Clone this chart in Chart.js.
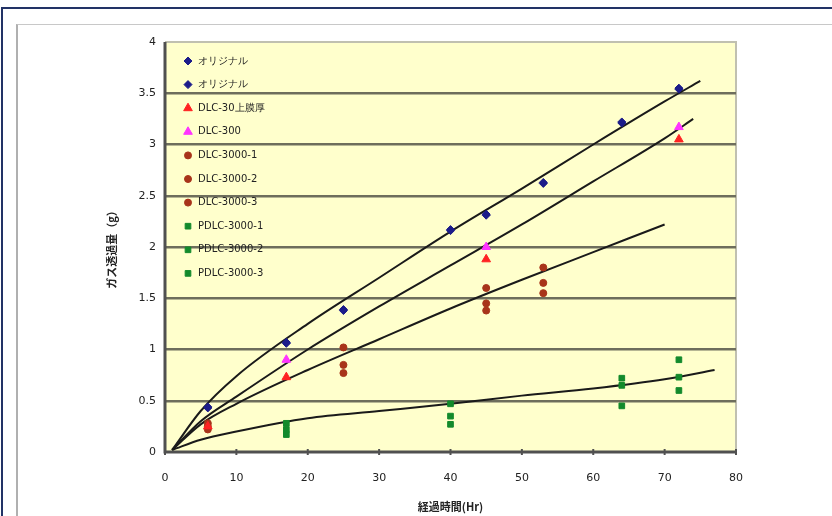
<!DOCTYPE html>
<html>
<head>
<meta charset="utf-8">
<script src="https://cdn.jsdelivr.net/npm/chart.js@4"></script>
<style>
  body { margin: 0; background: #fff; }
  .frame { position: absolute; left: 0; top: 0; width: 832px; height: 516px; overflow: hidden; }
  .outer { position: absolute; left: 1px; top: 7px; width: 840px; height: 520px; border-top: 2px solid #223366; border-left: 2px solid #223366; }
  .inner { position: absolute; left: 16px; top: 24px; width: 820px; height: 500px; border-top: 1px solid #c8c8c8; border-left: 2px solid #b0b0b0; }
  canvas { position: absolute; left: 0; top: 0; }
</style>
</head>
<body>
<div class="frame">
  <div class="outer"></div>
  <div class="inner"></div>
  <canvas id="myChart" width="832" height="516"></canvas>
</div>
<script>
// Data
const xTicks = [0, 10, 20, 30, 40, 50, 60, 70, 80];
const yTicks = [0, 0.5, 1, 1.5, 2, 2.5, 3, 3.5, 4];

const origX = [6, 17, 25, 40, 45, 53, 64, 72];
const orig1 = [0.43, 1.07, 1.38, 2.17, 2.32, 2.63, 3.22, 3.55];
const orig2 = [0.44, 1.06, 1.39, 2.16, 2.31, 2.62, 3.21, 3.54];

const dlcX = [6, 17, 45, 72];
const dlc30 = [0.25, 0.73, 1.88, 3.05];
const dlc300X = [17, 45, 72];
const dlc300 = [0.9, 2.0, 3.17];

const d3kX = [6, 25, 45, 53];
const d3k1 = [0.28, 1.02, 1.6, 1.8];
const d3k2 = [0.25, 0.85, 1.45, 1.65];
const d3k3 = [0.22, 0.77, 1.38, 1.55];

const pX = [17, 40, 64, 72];
const p1 = [0.28, 0.47, 0.72, 0.9];
const p2 = [0.22, 0.35, 0.65, 0.73];
const p3 = [0.17, 0.27, 0.45, 0.6];

// trend curves
const tOrigX = [1, 5, 10, 20, 30, 40, 50, 60, 70, 75];
const tOrig  = [0.02, 0.4, 0.74, 1.25, 1.7, 2.15, 2.57, 3.0, 3.42, 3.62];
const tDlcX  = [1, 5, 10, 20, 30, 40, 50, 60, 70, 74];
const tDlc   = [0.02, 0.3, 0.54, 1.0, 1.42, 1.82, 2.22, 2.64, 3.06, 3.25];
const t3kX   = [1, 5, 10, 20, 30, 40, 50, 60, 70];
const t3k    = [0.02, 0.27, 0.47, 0.8, 1.1, 1.4, 1.68, 1.95, 2.22];
const tPX    = [1, 5, 10, 20, 30, 40, 50, 60, 70, 77];
const tP     = [0.02, 0.12, 0.2, 0.33, 0.4, 0.47, 0.55, 0.62, 0.71, 0.8];

const labels = ['オリジナル', 'オリジナル', 'DLC-30上膜厚', 'DLC-300', 'DLC-3000-1', 'DLC-3000-2', 'DLC-3000-3', 'PDLC-3000-1', 'PDLC-3000-2', 'PDLC-3000-3'];

const toPts = (xs, ys) => xs.map((x, i) => ({x: x, y: ys[i]}));

function pointSet(label, xs, ys, color, style, r) {
    return {
        label: label,
        data: toPts(xs, ys),
        showLine: false,
        pointStyle: style,
        pointRadius: r,
        pointBackgroundColor: color,
        pointBorderColor: color,
        borderColor: color,
        backgroundColor: color,
        order: 1
    };
}
function trend(xs, ys) {
    return {
        label: '',
        trend: true,
        data: toPts(xs, ys),
        showLine: true,
        borderColor: '#1a1a1a',
        borderWidth: 2,
        pointRadius: 0,
        cubicInterpolationMode: 'monotone',
        order: 2
    };
}

const blue = '#1c1c8a', red = '#ff2222', pink = '#ff33ff', brown = '#a8341a', green = '#138a2c';

const datasets = [
    pointSet(labels[0], origX, orig1, blue, 'rectRot', 4),
    pointSet(labels[1], origX, orig2, blue, 'rectRot', 4),
    pointSet(labels[2], dlcX, dlc30, red, 'triangle', 5),
    pointSet(labels[3], dlc300X, dlc300, pink, 'triangle', 5),
    pointSet(labels[4], d3kX, d3k1, brown, 'circle', 3.5),
    pointSet(labels[5], d3kX, d3k2, brown, 'circle', 3.5),
    pointSet(labels[6], d3kX, d3k3, brown, 'circle', 3.5),
    pointSet(labels[7], pX, p1, green, 'rect', 4),
    pointSet(labels[8], pX, p2, green, 'rect', 4),
    pointSet(labels[9], pX, p3, green, 'rect', 4),
    trend(tOrigX, tOrig),
    trend(tDlcX, tDlc),
    trend(t3kX, t3k),
    trend(tPX, tP)
];

// plot background + border
const plotBg = {
    id: 'plotBg',
    beforeDraw(chart) {
        const {ctx, chartArea: a} = chart;
        ctx.save();
        ctx.fillStyle = '#ffffcc';
        ctx.fillRect(a.left, a.top, a.right - a.left, a.bottom - a.top);
        ctx.strokeStyle = '#c0c0b0';
        ctx.lineWidth = 2;
        ctx.beginPath();
        ctx.moveTo(a.left, a.top);
        ctx.lineTo(a.right, a.top);
        ctx.lineTo(a.right, a.bottom);
        ctx.stroke();
        ctx.restore();
    },
    afterDatasetsDraw(chart) {
        const {ctx, chartArea: a} = chart;
        ctx.save();
        ctx.strokeStyle = '#505050';
        ctx.lineWidth = 3;
        ctx.beginPath();
        ctx.moveTo(a.left, a.top);
        ctx.lineTo(a.left, a.bottom);
        ctx.lineTo(a.right, a.bottom);
        ctx.stroke();
        // small tick marks on x axis
        const xs = chart.scales.x;
        ctx.lineWidth = 2;
        xTicks.forEach(v => {
            const px = xs.getPixelForValue(v);
            ctx.beginPath();
            ctx.moveTo(px, a.bottom + 3);
            ctx.lineTo(px, a.bottom - 3);
            ctx.stroke();
        });
        ctx.restore();
    }
};

// legend inside the plot area
const innerLegend = {
    id: 'innerLegend',
    afterDraw(chart) {
        const {ctx, chartArea: a} = chart;
        ctx.save();
        ctx.font = '10px "DejaVu Sans"';
        ctx.textBaseline = 'middle';
        let y = a.top + 19;
        chart.data.datasets.forEach(ds => {
            if (ds.trend) return;
            const mx = a.left + 23;
            ctx.fillStyle = ds.pointBackgroundColor;
            ctx.strokeStyle = ds.pointBorderColor;
            Chart.helpers.drawPoint(ctx, {pointStyle: ds.pointStyle, radius: ds.pointRadius, borderWidth: 1, rotation: 0}, mx, y);
            ctx.fillStyle = '#222';
            ctx.fillText(ds.label, mx + 10, y);
            y += 23.6;
        });
        ctx.restore();
    }
};

const ctx = document.getElementById('myChart').getContext('2d');

const config = {
    type: 'scatter',
    data: { datasets: datasets },
    options: {
        responsive: false,
        animation: false,
        layout: { padding: { left: 105, right: 96, top: 42, bottom: 0 } },
        plugins: {
            legend: { display: false },
            tooltip: { enabled: false }
        },
        scales: {
            x: {
                type: 'linear',
                min: 0, max: 80,
                afterFit(s) { s.height = 64; },
                afterBuildTicks(s) { s.ticks = xTicks.map(v => ({value: v})); },
                grid: { display: false },
                border: { display: false },
                ticks: { color: '#222', padding: 12, font: { size: 11, family: 'DejaVu Sans' } },
                title: {
                    display: true,
                    text: '経過時間(Hr)',
                    color: '#222',
                    padding: { top: 0, bottom: 3 },
                    font: { size: 11, weight: 'bold', family: '"Noto Sans CJK JP"' }
                }
            },
            y: {
                min: 0, max: 4,
                afterFit(s) { s.width = 60; },
                afterBuildTicks(s) { s.ticks = yTicks.map(v => ({value: v})); },
                grid: {
                    drawTicks: false,
                    color: ctx => (ctx.tick && (ctx.tick.value === 0 || ctx.tick.value === 4)) ? 'rgba(0,0,0,0)' : '#6e6e5c',
                    lineWidth: 2.5
                },
                border: { display: false },
                ticks: {
                    color: '#222',
                    padding: 9,
                    font: { size: 11, family: 'DejaVu Sans' },
                    callback: v => String(v)
                },
                title: {
                    display: true,
                    text: 'ガス透過量（g）',
                    color: '#222',
                    padding: { top: 0, bottom: 4 },
                    font: { size: 11, weight: 'bold', family: '"Noto Sans CJK JP"' }
                }
            }
        }
    },
    plugins: [plotBg, innerLegend]
};

const myChart = new Chart(ctx, config);
</script>
</body>
</html>
